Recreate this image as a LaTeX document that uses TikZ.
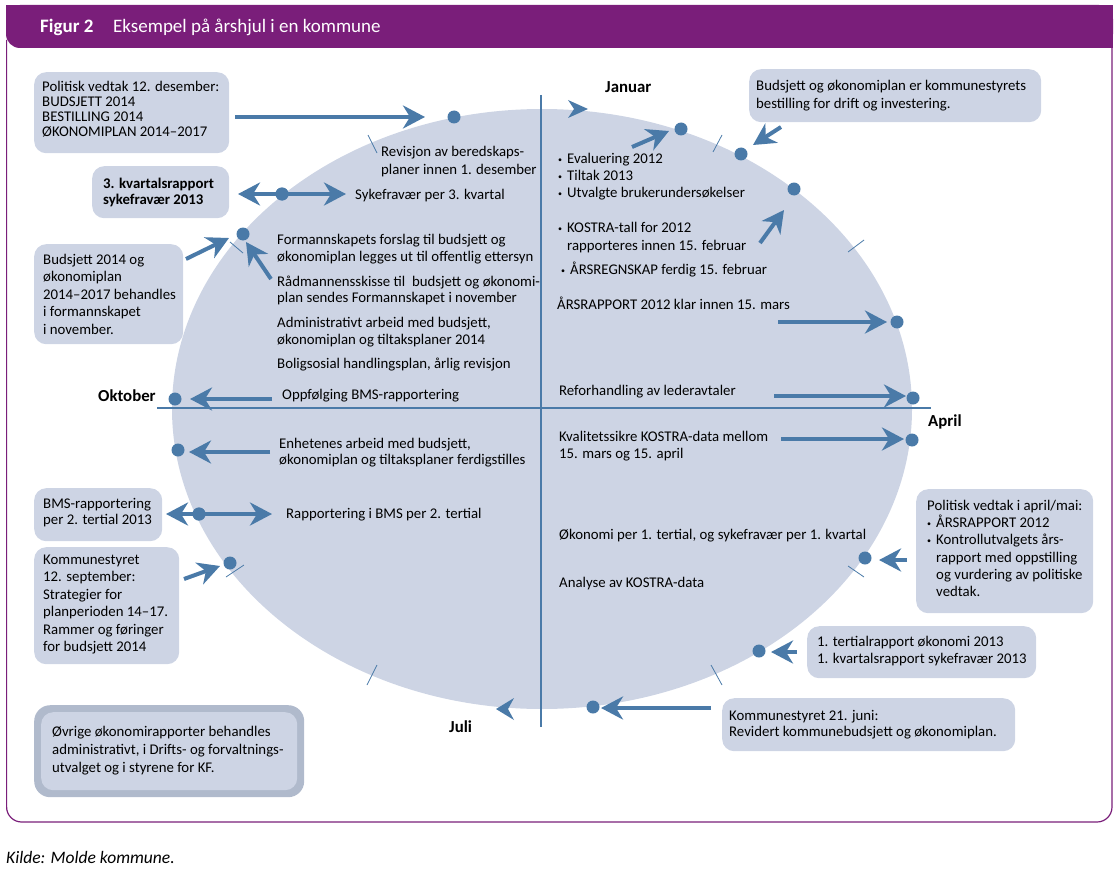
\documentclass[tikz,border=0pt]{standalone}
\usepackage{fontspec}
\setmainfont{Carlito}
\usetikzlibrary{arrows.meta}
\definecolor{purp}{RGB}{122,30,122}
\definecolor{ell}{RGB}{205,212,228}
\definecolor{arr}{RGB}{74,122,168}
\definecolor{bord}{RGB}{176,186,204}
\newcommand{\ml}[1]{\begin{tabular}[t]{@{}l@{}}#1\end{tabular}}
\newcommand{\bul}{\makebox[9pt][l]{\raisebox{1pt}{\fontsize{8}{8}\selectfont •}}}
\newcommand{\ind}{\hspace*{9pt}}
\begin{document}
\begin{tikzpicture}[x=1pt,y=-1pt,
  >={Stealth[length=22pt,width=23pt,inset=7pt]},
  txt/.style={anchor=base west, inner sep=0pt, font=\fontsize{14.8}{17.5}\selectfont},
  box/.style={fill=ell, rounded corners=12pt, anchor=north west, inner sep=0pt},
  dot/.style={circle, fill=arr, minimum size=13pt, inner sep=0pt},
  arw/.style={draw=arr, line width=4pt, ->},
  darw/.style={draw=arr, line width=4pt, <->},
  tk/.style={draw=arr, line width=0.8pt},
  month/.style={anchor=base west, inner sep=0pt, font=\fontsize{16.8}{19}\selectfont\bfseries}]
\useasboundingbox (0,0) rectangle (1115,869);
% header and frame
\fill[purp, rounded corners=14pt] (6,5) rectangle (1113,48);
\fill[purp] (6,5) rectangle (1113,30);
\fill[purp] (60,5) rectangle (1113,48);
\draw[purp, line width=1.2pt, rounded corners=15pt] (6.6,40) -- (6.6,822) -- (1112,822) -- (1112,40);
\node[anchor=base west, inner sep=0pt, text=white, font=\fontsize{19}{22}\selectfont\bfseries] (fig) at (40,33) {Figur 2};
\node[anchor=base west, inner sep=0pt, text=white, font=\fontsize{19}{22}\selectfont] (title) at (113,33) {Eksempel på årshjul i en kommune};
% wheel
\fill[ell] (542,409) ellipse [x radius=370, y radius=300];
\coordinate (vt) at (541,95); \coordinate (vb) at (541,727);
\coordinate (hl) at (157,408); \coordinate (hr) at (931,408);
\draw[arr, line width=2.5pt] (vt) -- (vb);
\draw[arr, line width=2pt] (hl) -- (hr);
% ticks
\coordinate (t1a) at (368,135); \coordinate (t1b) at (377,153);
\coordinate (t2a) at (713,152); \coordinate (t2b) at (722,135);
\coordinate (t3a) at (848,252); \coordinate (t3b) at (864,240);
\coordinate (t4a) at (230,242); \coordinate (t4b) at (243,253);
\coordinate (t5a) at (226,577); \coordinate (t5b) at (244,565);
\coordinate (t6a) at (377,665); \coordinate (t6b) at (367,685);
\coordinate (t7a) at (711,665); \coordinate (t7b) at (722,685);
\coordinate (t8a) at (848,566); \coordinate (t8b) at (864,577);
\foreach \t in {1,...,8} {\draw[tk] (t\t a) -- (t\t b);}
% months
\node[month] (jan) at (605,93) {Januar};
\node[month] (okt) at (98,401) {Oktober};
\node[month] (apr) at (928,426) {April};
\node[month] (jul) at (449,732) {Juli};
% lone heads
\coordinate (janh) at (588,109);
\fill[arr] (janh) -- ++(-20,-9) -- ++(6,9) -- ++(-6,9) -- cycle;
\coordinate (julh) at (496,709);
\fill[arr] (julh) -- ++(18,-11) -- ++(-6,11) -- ++(6,11) -- cycle;
% boxes
\node[box, minimum width=195pt, minimum height=81pt] (b1) at (34,72) {};
\node[box, minimum width=137pt, minimum height=52pt] (b2) at (92,166) {};
\node[box, minimum width=149pt, minimum height=100pt] (b3) at (34,244) {};
\node[box, minimum width=128pt, minimum height=53pt] (b4) at (34,488) {};
\node[box, minimum width=145pt, minimum height=117pt] (b5) at (34,547) {};
\node[box, fill=bord, minimum width=270pt, minimum height=92pt, rounded corners=16pt] (b6) at (34,705) {};
\node[box, minimum width=256pt, minimum height=78pt] (b6i) at (41,712) {};
\node[box, minimum width=292pt, minimum height=53pt] (b7) at (749,69) {};
\node[box, minimum width=177pt, minimum height=124pt] (b8) at (916,489) {};
\node[box, minimum width=229pt, minimum height=52pt] (b9) at (807,626) {};
\node[box, minimum width=293pt, minimum height=53pt] (b10) at (722,698) {};
% box texts
\node[txt, font=\fontsize{14.8}{14.8}\selectfont] (b1t) at (42,92) {\ml{Politisk vedtak 12. desember:\\BUDSJETT 2014\\BESTILLING 2014\\ØKONOMIPLAN 2014–2017}};
\node[txt, font=\fontsize{14.8}{16.7}\selectfont\bfseries] (b2t) at (103,188) {\ml{3. kvartalsrapport\\sykefravær 2013}};
\node[txt] (b3t) at (43,264) {\ml{Budsjett 2014 og\\økonomiplan\\2014–2017 behandles\\i formannskapet\\i november.}};
\node[txt, font=\fontsize{14.8}{16.7}\selectfont] (b4t) at (43,508) {\ml{BMS-rapportering\\per 2. tertial 2013}};
\node[txt] (b5t) at (43,564) {\ml{Kommunestyret\\12. september:\\Strategier for\\planperioden 14–17.\\Rammer og føringer\\for budsjett 2014}};
\node[txt, font=\fontsize{14.8}{18}\selectfont] (b6t) at (52,736) {\ml{Øvrige økonomirapporter behandles\\administrativt, i Drifts- og forvaltnings-\\utvalget og i styrene for KF.}};
\node[txt, font=\fontsize{14.8}{18}\selectfont] (b7t) at (756,91) {\ml{Budsjett og økonomiplan er kommunestyrets\\bestilling for drift og investering.}};
\node[txt, font=\fontsize{14.8}{17.2}\selectfont] (b8t) at (927,510) {\ml{Politisk vedtak i april/mai:\\\bul ÅRSRAPPORT 2012\\\bul Kontrollutvalgets års-\\\ind rapport med oppstilling\\\ind og vurdering av politiske\\\ind vedtak.}};
\node[txt, font=\fontsize{14.8}{17.6}\selectfont] (b9t) at (817,646) {\ml{1. tertialrapport økonomi 2013\\1. kvartalsrapport sykefravær 2013}};
\node[txt, font=\fontsize{14.8}{16}\selectfont] (b10t) at (729,720) {\ml{Kommunestyret 21. juni:\\Revidert kommunebudsjett og økonomiplan.}};
% wheel texts
\node[txt] (e1) at (381,157) {\ml{Revisjon av beredskaps-\\planer innen 1. desember}};
\node[txt] (e2) at (355,199) {Sykefravær per 3. kvartal};
\node[txt, font=\fontsize{14.8}{17}\selectfont] (e3) at (277,244) {\ml{Formannskapets forslag til budsjett og\\økonomiplan legges ut til offentlig ettersyn}};
\node[txt, font=\fontsize{14.8}{16.5}\selectfont] (e4) at (277,286) {\ml{Rådmannensskisse til~ budsjett og økonomi-\\plan sendes Formannskapet i november}};
\node[txt, font=\fontsize{14.8}{17}\selectfont] (e5) at (277,327) {\ml{Administrativt arbeid med budsjett,\\økonomiplan og tiltaksplaner 2014}};
\node[txt] (e6) at (277,368) {Boligsosial handlingsplan, årlig revisjon};
\node[txt] (e7) at (282,399) {Oppfølging BMS-rapportering};
\node[txt, font=\fontsize{14.8}{16.7}\selectfont] (e8) at (279,448) {\ml{Enhetenes arbeid med budsjett,\\økonomiplan og tiltaksplaner ferdigstilles}};
\node[txt] (e9) at (286,518) {Rapportering i BMS per 2. tertial};
\node[txt, font=\fontsize{14.8}{17}\selectfont] (e10) at (558,164) {\ml{\bul Evaluering 2012\\\bul Tiltak 2013\\\bul Utvalgte brukerundersøkelser}};
\node[txt, font=\fontsize{14.8}{18}\selectfont] (e11) at (558,232) {\ml{\bul KOSTRA-tall for 2012\\\ind rapporteres innen 15. februar}};
\node[txt] (e12) at (561,274) {\bul ÅRSREGNSKAP ferdig 15. februar};
\node[txt] (e13) at (557,309) {ÅRSRAPPORT 2012 klar innen 15. mars};
\node[txt] (e14) at (559,395) {Reforhandling av lederavtaler};
\node[txt, font=\fontsize{14.8}{17}\selectfont] (e15) at (559,441) {\ml{Kvalitetssikre KOSTRA-data mellom\\15. mars og 15. april}};
\node[txt] (e16) at (559,539) {Økonomi per 1. tertial, og sykefravær per 1. kvartal};
\node[txt] (e17) at (559,587) {Analyse av KOSTRA-data};
% dots
\node[dot] (d1) at (454,117) {};
\node[dot] (d2) at (681,129) {};
\node[dot] (d3) at (741,154) {};
\node[dot] (d4) at (794,189) {};
\node[dot] (d5) at (897,322) {};
\node[dot] (d6) at (913,398) {};
\node[dot] (d7) at (912,440) {};
\node[dot] (d8) at (865,558) {};
\node[dot] (d9) at (759,651) {};
\node[dot] (d10) at (593,707) {};
\node[dot] (d11) at (175,399) {};
\node[dot] (d12) at (178,450) {};
\node[dot] (d13) at (199,514) {};
\node[dot] (d14) at (230,563) {};
\node[dot] (d15) at (243,234) {};
\node[dot] (d16) at (282,194) {};
% arrow end points
\coordinate (a1s) at (235,117);  \coordinate (a1e) at (425,117);
\coordinate (a2s) at (238,194);  \coordinate (a2e) at (346,194);
\coordinate (a3s) at (186,259);  \coordinate (a3e) at (229,238);
\coordinate (a4s) at (271,279);  \coordinate (a4e) at (246,242);
\coordinate (a5s) at (272,399);  \coordinate (a5e) at (190,399);
\coordinate (a6s) at (270,452);  \coordinate (a6e) at (189,452);
\coordinate (a7s) at (166,514);  \coordinate (a7e) at (272,514);
\coordinate (a8s) at (184,579);  \coordinate (a8e) at (220,566);
\coordinate (a10s) at (711,708); \coordinate (a10e) at (601,708);
\coordinate (a11s) at (797,652); \coordinate (a11e) at (771,652);
\coordinate (a12s) at (907,560); \coordinate (a12e) at (879,560);
\coordinate (a13s) at (781,439); \coordinate (a13e) at (904,439);
\coordinate (a14s) at (774,396); \coordinate (a14e) at (906,396);
\coordinate (a15s) at (778,322); \coordinate (a15e) at (887,322);
\coordinate (a16s) at (760,243); \coordinate (a16e) at (784,210);
\coordinate (a17s) at (632,147); \coordinate (a17e) at (669,131);
\coordinate (a18s) at (781,127); \coordinate (a18e) at (753,145);
\foreach \a in {1,3,4,5,6,8,10,11,12,13,14,15,16,17,18} {\draw[arw] (a\a s) -- (a\a e);}
\draw[darw] (a2s) -- (a2e);
\draw[darw] (a7s) -- (a7e);
\node[dot] at (d16) {};
\node[dot] at (d13) {};
% source
\node[anchor=base west, inner sep=0pt, font=\fontsize{17.5}{20}\selectfont\itshape] (src) at (6,863) {Kilde: Molde kommune.};
\end{tikzpicture}
\end{document}
